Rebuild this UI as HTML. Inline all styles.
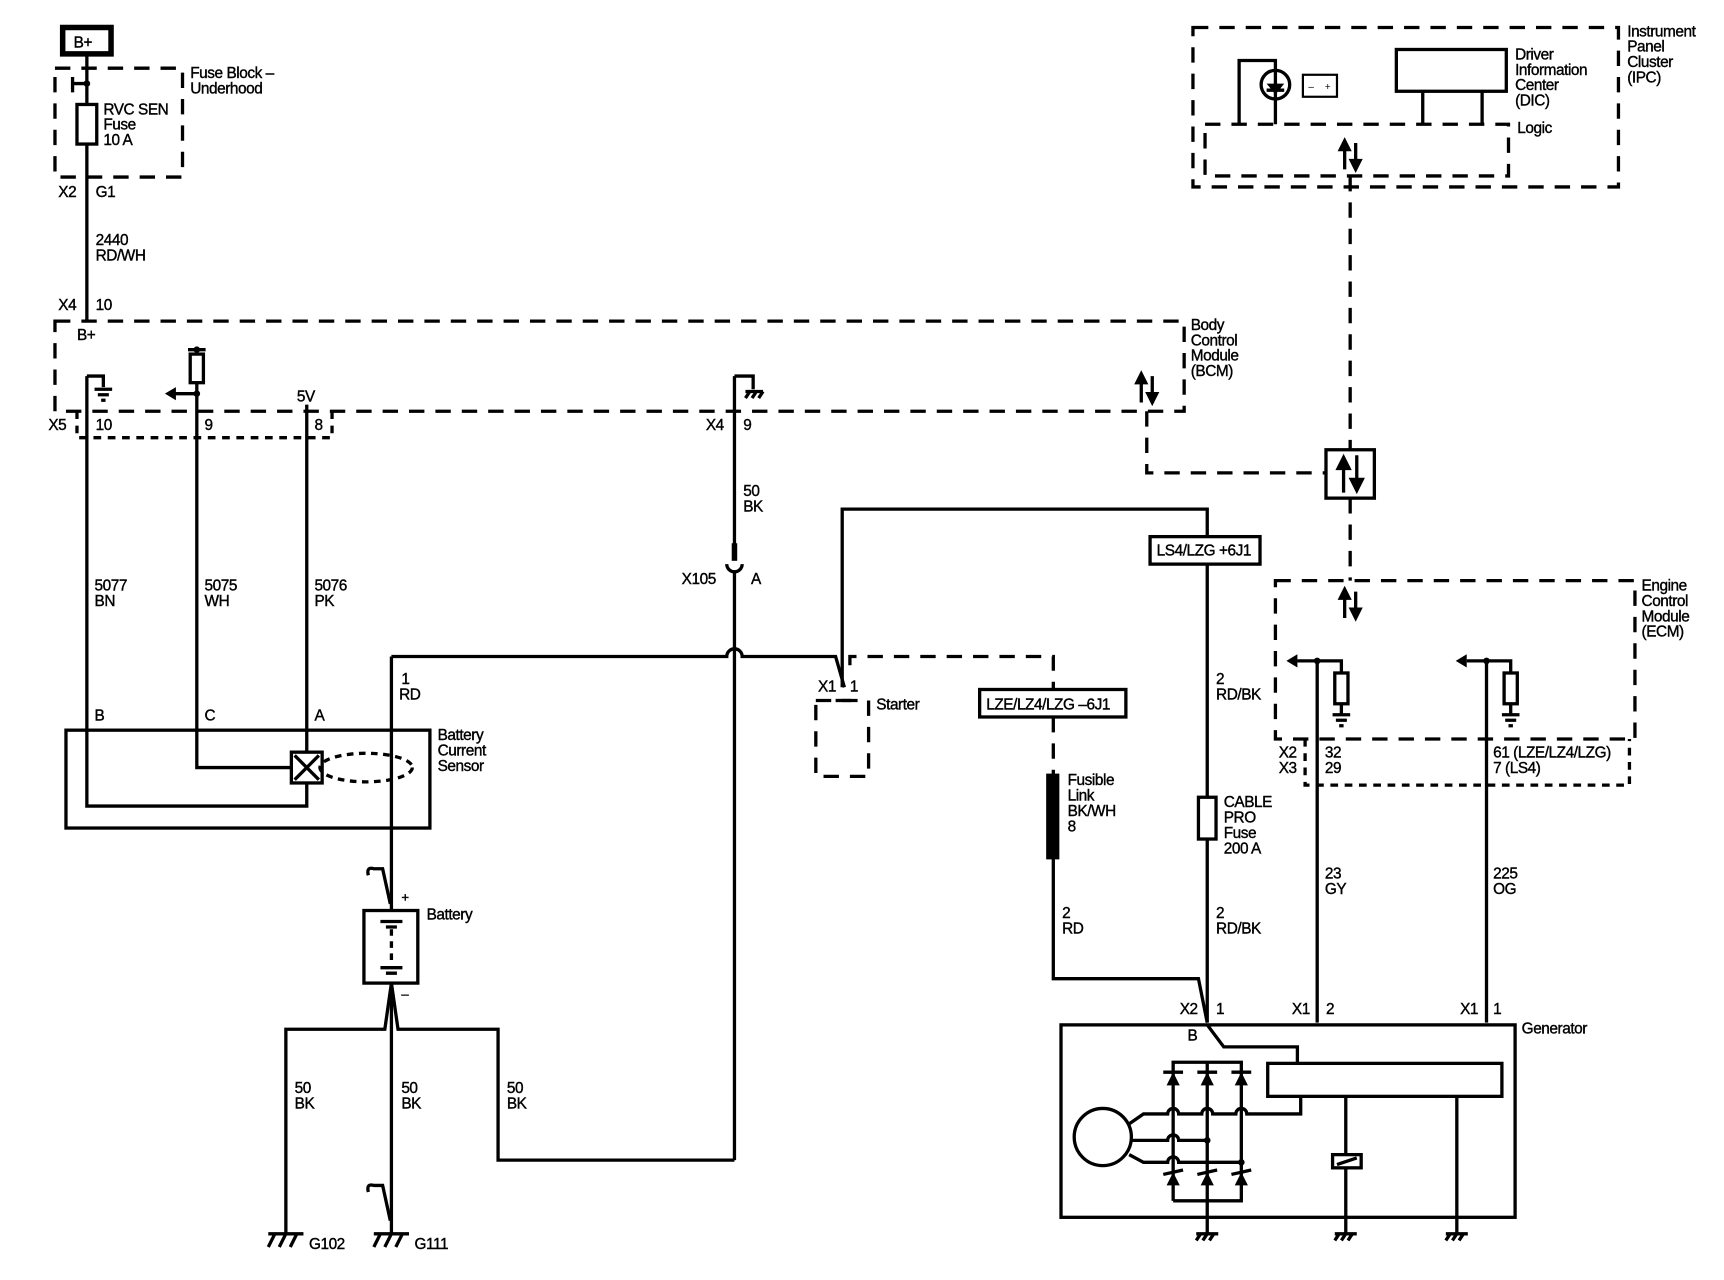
<!DOCTYPE html>
<html><head><meta charset="utf-8"><style>
html,body{margin:0;padding:0;background:#fff;}
svg{display:block;}
text{font-family:"Liberation Sans",sans-serif;font-size:14px;fill:#000;letter-spacing:-0.4px;stroke:#000;stroke-width:0.35px;}
</style></head><body>
<svg width="1724" height="1280" viewBox="0 0 1568 1164" preserveAspectRatio="none" xmlns="http://www.w3.org/2000/svg">
<g fill="none" stroke="#000" stroke-width="3">
<rect x="57" y="25" width="44" height="24" stroke-width="5"/>
<rect x="50" y="62" width="116" height="99" stroke-dasharray="14,10"/>
<path d="M79 50V292"/>
<path d="M79 76H66V84M66 76V70"/>
<rect x="70" y="95" width="18" height="36" fill="#fff"/>
<rect x="50" y="292" width="1027" height="82" stroke-dasharray="14,10"/>
<path d="M70 374V398H302V374" stroke-dasharray="7,6"/>
<path d="M79 342V733H279V712"/>
<path d="M79 342H94V352M86 354H102M89 359H99M92 364H96"/>
<path d="M179 318V698H265"/>
<path d="M171 318H187"/>
<rect x="173" y="322" width="12" height="26" fill="#fff"/>
<path d="M179 358H158"/>
<path d="M279 368V684"/>
<rect x="60" y="664" width="331" height="89"/>
<rect x="265" y="684" width="28" height="28" fill="#fff"/>
<path d="M268 687L290 709M290 687L268 709"/>
<ellipse cx="333" cy="698" rx="42" ry="13" stroke-dasharray="6,5"/>
<path d="M356 597V828"/>
<path d="M356 597H661A7 7 0 0 1 675 597H760L768 625"/>
<path d="M335 796Q333 788 340 790H348L355 822"/>
<rect x="331" y="828" width="49" height="66"/>
<path d="M346 838H366M351 843H361M346 880H366M351 885H361" />
<path d="M356 845V878" stroke-dasharray="6,5"/>
<path d="M356 894L350 936H260V1122M356 894L362 936H453V1055H668"/>
<path d="M356 894V1122"/>
<path d="M335 1084Q333 1076 340 1078H348L355 1110"/>
<path d="M244 1122H276M244 1134L250 1122M254 1134L260 1122M264 1134L270 1122"/>
<path d="M340 1122H372M340 1134L346 1122M350 1134L356 1122M360 1134L366 1122"/>
<path d="M668 342V506M668 520V1055"/>
<path d="M668 342H685V354M678 356H694M678 362L682 356M684 362L688 356M690 362L694 356"/>
<path d="M661 513A7 7 0 0 0 675 513"/>
<path d="M668 494V510" stroke-width="5"/>
<path d="M766 625V463H1098V488"/>
<rect x="1046" y="488" width="100" height="25"/>
<path d="M1098 513V930"/>
<rect x="1090" y="725" width="16" height="38" fill="#fff"/>
<path d="M773 605V597H958V627" stroke-dasharray="14,10"/>
<rect x="742" y="637" width="48" height="69" stroke-dasharray="14,10"/>
<path d="M760 637H774"/>
<rect x="891" y="627" width="133" height="25"/>
<path d="M958 652V704" stroke-dasharray="14,10"/>
<rect x="953" y="705" width="9" height="75" fill="#000"/>
<path d="M958 780V890H1090L1098 930"/>
<rect x="1085" y="25" width="387" height="145" stroke-dasharray="14,10"/>
<rect x="1096" y="113" width="276" height="47" stroke-dasharray="14,10"/>
<rect x="1270" y="45" width="100" height="38"/>
<path d="M1294 83V113M1348 83V113"/>
<path d="M1127 113V55H1160V113"/>
<circle cx="1160" cy="77" r="13"/>
<path d="M1152 82H1168"/>
<rect x="1185" y="68" width="31" height="20" stroke-width="2"/>
<path d="M1228 160V409M1228 453V528" stroke-dasharray="14,10"/>
<rect x="1206" y="409" width="44" height="44"/>
<path d="M1043 374V430H1206" stroke-dasharray="14,10"/>
<rect x="1160" y="528" width="327" height="144" stroke-dasharray="14,10"/>
<path d="M1187 672V714H1482V672" stroke-dasharray="7,6"/>
<path d="M1198 601V930M1198 601H1180M1198 601H1220V612M1220 640V650M1212 650H1228M1215 655H1225M1218 660H1222"/>
<rect x="1214" y="612" width="12" height="28"/>
<path d="M1352 601V930M1352 601H1334M1352 601H1374V612M1374 640V650M1366 650H1382M1369 655H1379M1372 660H1376"/>
<rect x="1368" y="612" width="12" height="28"/>
<rect x="965" y="932" width="413" height="175"/>
<rect x="1153" y="967" width="213" height="30"/>
<path d="M1098 932L1113 952H1180V967"/>
<path d="M1067 1092V966H1129V1092H1067M1098 966V1122"/>
<path d="M1058 975H1076M1089 975H1107M1120 975H1138"/>
<path d="M1058 1068L1076 1064M1089 1068L1107 1064M1120 1068L1138 1064"/>
<circle cx="1003" cy="1034" r="26"/>
<path d="M1027 1022L1040 1013H1062A5 5 0 0 1 1072 1013H1093A5 5 0 0 1 1103 1013H1124A5 5 0 0 1 1134 1013H1183V997"/>
<path d="M1029 1037H1062A5 5 0 0 1 1072 1037H1098"/>
<path d="M1027 1050L1040 1057H1062A5 5 0 0 1 1072 1057H1129"/>
<path d="M1224 997V1122M1325 997V1122"/>
<rect x="1212" y="1050" width="26" height="12" fill="#fff"/>
<path d="M1216 1059L1234 1053"/>
<path d="M1088 1122H1108M1088 1128L1092 1122M1094 1128L1098 1122M1100 1128L1104 1122"/>
<path d="M1214 1122H1234M1214 1128L1218 1122M1220 1128L1224 1122M1226 1128L1230 1122"/>
<path d="M1315 1122H1335M1315 1128L1319 1122M1321 1128L1325 1122M1327 1128L1331 1122"/>
</g>
<g fill="#000">
<circle cx="79" cy="76" r="3"/><circle cx="179" cy="318" r="3"/><circle cx="179" cy="358" r="3"/>
<polygon points="150,358 160,352 160,364"/>
<polygon points="1170,601 1180,595 1180,607"/><circle cx="1198" cy="601" r="3"/>
<polygon points="1324,601 1334,595 1334,607"/><circle cx="1352" cy="601" r="3"/>
<polygon points="1152,76 1168,76 1160,86"/>
<polygon points="1067,975 1061,987 1073,987"/><polygon points="1098,975 1092,987 1104,987"/><polygon points="1129,975 1123,987 1135,987"/>
<polygon points="1067,1066 1061,1078 1073,1078"/><polygon points="1098,1066 1092,1078 1104,1078"/><polygon points="1129,1066 1123,1078 1135,1078"/>
<circle cx="1098" cy="1037" r="3"/><circle cx="1129" cy="1057" r="3"/>
</g>
<g stroke="#000" stroke-width="3" fill="#000">
<path d="M1038 366V345M1048 342V362"/><polygon points="1038,340 1034,348 1042,348" /><polygon points="1048,366 1044,358 1052,358"/>
<path d="M1223 154V133M1233 130V150"/><polygon points="1223,128 1219,136 1227,136"/><polygon points="1233,154 1229,146 1237,146"/>
<path d="M1222 448V422M1234 414V440"/><polygon points="1222,416 1217,426 1227,426"/><polygon points="1234,446 1229,436 1239,436"/>
<path d="M1223 562V541M1233 538V558"/><polygon points="1223,536 1219,544 1227,544"/><polygon points="1233,562 1229,554 1237,554"/>
</g>
<text x="67" y="43">B+</text>
<text x="173" y="71">Fuse Block –</text><text x="173" y="85">Underhood</text>
<text x="94" y="104">RVC SEN</text><text x="94" y="118">Fuse</text><text x="94" y="132">10 A</text>
<text x="53" y="179">X2</text><text x="87" y="179">G1</text>
<text x="87" y="223">2440</text><text x="87" y="237">RD/WH</text>
<text x="53" y="282">X4</text><text x="87" y="282">10</text>
<text x="70" y="309">B+</text>
<text x="1083" y="300">Body</text><text x="1083" y="314">Control</text><text x="1083" y="328">Module</text><text x="1083" y="342">(BCM)</text>
<text x="270" y="365">5V</text>
<text x="44" y="391">X5</text><text x="87" y="391">10</text><text x="186" y="391">9</text><text x="286" y="391">8</text>
<text x="642" y="391">X4</text><text x="676" y="391">9</text>
<text x="676" y="451">50</text><text x="676" y="465">BK</text>
<text x="620" y="531">X105</text><text x="683" y="531">A</text>
<text x="86" y="537">5077</text><text x="86" y="551">BN</text>
<text x="186" y="537">5075</text><text x="186" y="551">WH</text>
<text x="286" y="537">5076</text><text x="286" y="551">PK</text>
<text x="365" y="622">1</text><text x="363" y="636">RD</text>
<text x="86" y="655">B</text><text x="186" y="655">C</text><text x="286" y="655">A</text>
<text x="398" y="673">Battery</text><text x="398" y="687">Current</text><text x="398" y="701">Sensor</text>
<text x="365" y="820" style="font-size:12px">+</text><text x="365" y="908" style="font-size:12px">–</text>
<text x="388" y="836">Battery</text>
<text x="268" y="994">50</text><text x="268" y="1008">BK</text>
<text x="365" y="994">50</text><text x="365" y="1008">BK</text>
<text x="461" y="994">50</text><text x="461" y="1008">BK</text>
<text x="281" y="1136">G102</text><text x="377" y="1136">G111</text>
<text x="744" y="629">X1</text><text x="773" y="629">1</text><text x="797" y="645">Starter</text>
<text x="897" y="645">LZE/LZ4/LZG –6J1</text>
<text x="1052" y="505">LS4/LZG +6J1</text>
<text x="1106" y="622">2</text><text x="1106" y="636">RD/BK</text>
<text x="971" y="714">Fusible</text><text x="971" y="728">Link</text><text x="971" y="742">BK/WH</text><text x="971" y="756">8</text>
<text x="1113" y="734">CABLE</text><text x="1113" y="748">PRO</text><text x="1113" y="762">Fuse</text><text x="1113" y="776">200 A</text>
<text x="966" y="835">2</text><text x="966" y="849">RD</text>
<text x="1106" y="835">2</text><text x="1106" y="849">RD/BK</text>
<text x="1480" y="33">Instrument</text><text x="1480" y="47">Panel</text><text x="1480" y="61">Cluster</text><text x="1480" y="75">(IPC)</text>
<text x="1378" y="54">Driver</text><text x="1378" y="68">Information</text><text x="1378" y="82">Center</text><text x="1378" y="96">(DIC)</text>
<text x="1380" y="121">Logic</text>
<text x="1190" y="82" style="font-size:9px;stroke-width:0">–</text><text x="1205" y="82" style="font-size:9px;stroke-width:0">+</text>
<text x="1493" y="537">Engine</text><text x="1493" y="551">Control</text><text x="1493" y="565">Module</text><text x="1493" y="579">(ECM)</text>
<text x="1163" y="689">X2</text><text x="1163" y="703">X3</text>
<text x="1205" y="689">32</text><text x="1205" y="703">29</text>
<text x="1358" y="689">61 (LZE/LZ4/LZG)</text><text x="1358" y="703">7 (LS4)</text>
<text x="1205" y="799">23</text><text x="1205" y="813">GY</text>
<text x="1358" y="799">225</text><text x="1358" y="813">OG</text>
<text x="1073" y="922">X2</text><text x="1106" y="922">1</text>
<text x="1175" y="922">X1</text><text x="1206" y="922">2</text>
<text x="1328" y="922">X1</text><text x="1358" y="922">1</text>
<text x="1080" y="946">B</text>
<text x="1384" y="940">Generator</text>
</svg>
</body></html>
